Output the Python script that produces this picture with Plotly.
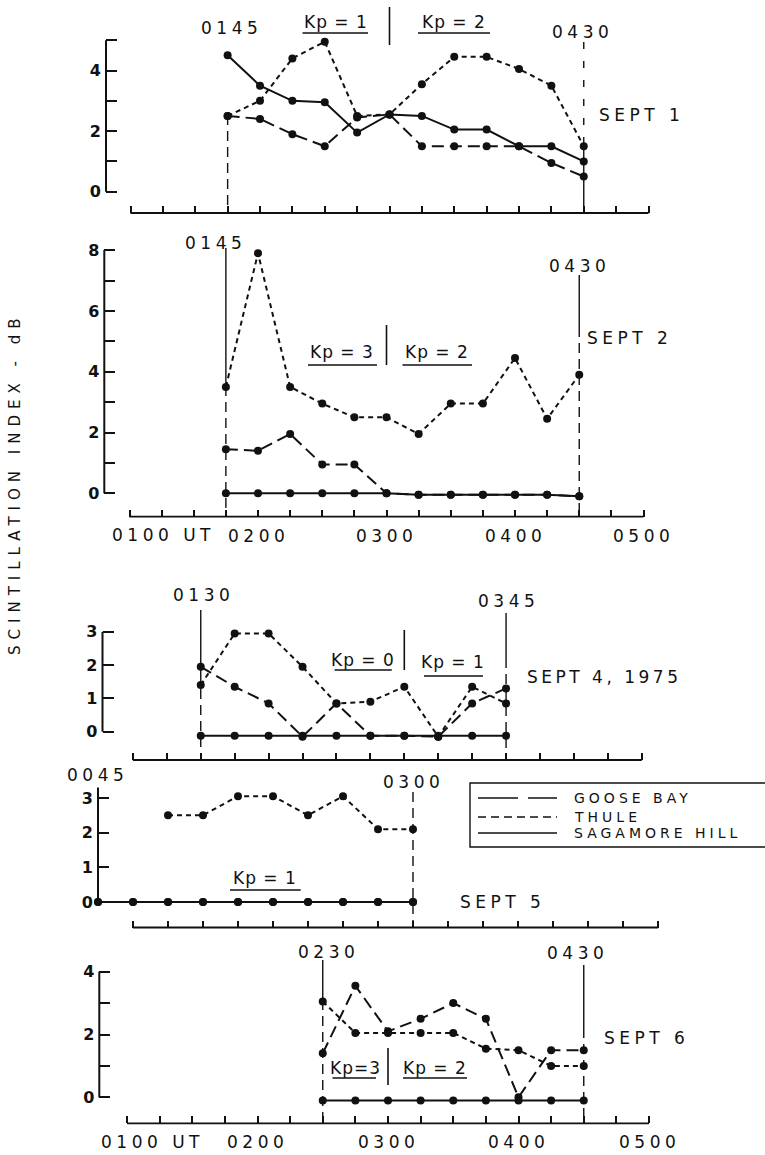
import plotly.graph_objects as go

W, H = 765, 1155
FONT = "DejaVu Sans"
INK = "#111111"


def hrs(s):
    return int(s[:2]) + int(s[2:]) / 60.0


# ---------------- data ----------------
sep1_times = ["0145", "0200", "0215", "0230", "0245", "0300", "0315", "0330", "0345", "0400", "0415", "0430"]
sep1_goose = [2.5, 2.4, 1.9, 1.5, 2.45, 2.55, 1.5, 1.5, 1.5, 1.5, 0.95, 0.5]
sep1_thule = [2.5, 3.0, 4.4, 4.95, 2.5, 2.55, 3.55, 4.45, 4.45, 4.05, 3.5, 1.5]
sep1_sagamore = [4.5, 3.5, 3.0, 2.95, 1.95, 2.55, 2.5, 2.05, 2.05, 1.5, 1.5, 1.0]

sep2_times = ["0145", "0200", "0215", "0230", "0245", "0300", "0315", "0330", "0345", "0400", "0415", "0430"]
sep2_goose = [1.45, 1.4, 1.95, 0.95, 0.95, 0.0, -0.05, -0.05, -0.05, -0.05, -0.05, -0.1]
sep2_thule = [3.5, 7.9, 3.5, 2.95, 2.5, 2.5, 1.95, 2.95, 2.95, 4.45, 2.45, 3.9]
sep2_sagamore = [0.0, 0.0, 0.0, 0.0, 0.0, 0.0, -0.05, -0.05, -0.05, -0.05, -0.05, -0.1]

sep4_times = ["0130", "0145", "0200", "0215", "0230", "0245", "0300", "0315", "0330", "0345"]
sep4_goose = [1.95, 1.35, 0.85, -0.15, 0.85, -0.12, -0.12, -0.15, 0.85, 1.3]
sep4_thule = [1.4, 2.95, 2.95, 1.95, 0.85, 0.9, 1.35, -0.15, 1.35, 0.85]
sep4_sagamore = [-0.12, -0.12, -0.12, -0.12, -0.12, -0.12, -0.12, -0.12, -0.12, -0.12]

sep5_times = ["0045", "0100", "0115", "0130", "0145", "0200", "0215", "0230", "0245", "0300"]
sep5_goose = [0.0, 0.0, 0.0, 0.0, 0.0, 0.0, 0.0, 0.0, 0.0, 0.0]
sep5_sagamore = [0.0, 0.0, 0.0, 0.0, 0.0, 0.0, 0.0, 0.0, 0.0, 0.0]
sep5_thule_times = ["0115", "0130", "0145", "0200", "0215", "0230", "0245", "0300"]
sep5_thule = [2.5, 2.5, 3.05, 3.05, 2.5, 3.05, 2.1, 2.1]

sep6_times = ["0230", "0245", "0300", "0315", "0330", "0345", "0400", "0415", "0430"]
sep6_goose = [1.4, 3.55, 2.1, 2.5, 3.0, 2.5, 0.0, 1.5, 1.5]
sep6_thule = [3.05, 2.05, 2.05, 2.05, 2.05, 1.55, 1.5, 1.0, 1.0]
sep6_sagamore = [-0.1, -0.1, -0.1, -0.1, -0.1, -0.1, -0.1, -0.1, -0.1]

station_names = ["GOOSE BAY", "THULE", "SAGAMORE HILL"]

panel_series = [
    [(sep1_times, sep1_goose), (sep1_times, sep1_thule), (sep1_times, sep1_sagamore)],
    [(sep2_times, sep2_goose), (sep2_times, sep2_thule), (sep2_times, sep2_sagamore)],
    [(sep4_times, sep4_goose), (sep4_times, sep4_thule), (sep4_times, sep4_sagamore)],
    [(sep5_times, sep5_goose), (sep5_thule_times, sep5_thule), (sep5_times, sep5_sagamore)],
    [(sep6_times, sep6_goose), (sep6_times, sep6_thule), (sep6_times, sep6_sagamore)],
]

y_ticks = [[0, 1, 2, 3, 4, 5], [0, 1, 2, 3, 4, 5, 6, 7, 8], [0, 1, 2, 3], [0, 1, 2, 3], [0, 1, 2, 3, 4]]
y_tick_labels = [["0", "", "2", "", "4", ""],
                 ["0", "", "2", "", "4", "", "6", "", "8"],
                 ["0", "1", "2", "3"], ["0", "1", "2", "3"],
                 ["0", "", "2", "", "4"]]
x_tick_times = ["0100", "0115", "0130", "0145", "0200", "0215", "0230", "0245", "0300",
                "0315", "0330", "0345", "0400", "0415", "0430", "0445", "0500"]
x_axis_end = ["0500", "0500", "0445", "0445", "0500"]
x_labels = ["0200", "0300", "0400", "0500"]

# ---------------- geometry (pixels) ----------------
# X0: px of 0100, S: px per hour, Y0: px of value 0, U: px per unit,
# A: px of the y-axis line, B: px of the time baseline
geom = [
    dict(X0=130.5, S=129.5, Y0=191.7, U=30.3, A=106.0, B=213.0, ytop=5.0),
    dict(X0=129.5, S=128.5, Y0=493.3, U=30.4, A=104.3, B=516.7, ytop=8.0),
    dict(X0=132.9, S=135.7, Y0=731.7, U=33.3, A=102.5, B=760.0, ytop=3.0),
    dict(X0=133.0, S=140.0, Y0=902.0, U=34.7, A=98.0, B=927.5, ytop=3.3),
    dict(X0=127.0, S=130.5, Y0=1097.3, U=31.4, A=99.3, B=1123.3, ytop=4.0),
]
R_PX = 720.0

dashes = ["12px,6px", "5px,4px", "solid"]


def px(x):
    return x / W


def py(y):
    return 1 - y / H


def ls(text, sp):
    return '<span style="letter-spacing:%spx">%s</span>' % (sp, text)


fig = go.Figure()
layout = dict(width=W, height=H, margin=dict(l=0, r=0, t=0, b=0), autosize=False,
              paper_bgcolor="white", plot_bgcolor="white", showlegend=False)
shapes = []
annotations = []

for i, g in enumerate(geom):
    n = i + 1
    xs = "x" if n == 1 else "x%d" % n
    ys = "y" if n == 1 else "y%d" % n
    xa = "xaxis" if n == 1 else "xaxis%d" % n
    ya = "yaxis" if n == 1 else "yaxis%d" % n
    tl = 1 + (g["A"] - g["X0"]) / g["S"]
    tr = 1 + (R_PX - g["X0"]) / g["S"]
    ylo, yhi = -0.6, g["ytop"] + 0.4
    tend = hrs(x_axis_end[i])
    tv = [hrs(t) for t in x_tick_times if hrs(t) <= tend + 1e-9]
    layout[xa] = dict(domain=[px(g["A"]), px(R_PX)], range=[tl, tr], anchor="free",
                      position=py(g["B"]), showline=False, showgrid=False, zeroline=False,
                      ticks="inside", ticklen=7, tickwidth=1.6, tickcolor=INK,
                      tickvals=tv, showticklabels=False, fixedrange=True)
    layout[ya] = dict(domain=[py(g["Y0"] - ylo * g["U"]), py(g["Y0"] - yhi * g["U"])],
                      range=[ylo, yhi], anchor=xs, showline=False, showgrid=False,
                      zeroline=False, ticks="inside", ticklen=11, tickwidth=2,
                      tickcolor=INK, tickvals=y_ticks[i], ticktext=y_tick_labels[i],
                      ticklabelstandoff=4,
                      tickfont=dict(family=FONT, size=16, color=INK, weight="bold"),
                      fixedrange=True)
    # y-axis line from 0 to top
    shapes.append(dict(type="line", xref=xs + " domain", yref=ys, x0=0, x1=0, y0=0,
                       y1=g["ytop"], line=dict(color=INK, width=2)))
    # time baseline
    shapes.append(dict(type="line", xref=xs, yref="paper", x0=1.0, x1=tend,
                       y0=py(g["B"]), y1=py(g["B"]), line=dict(color=INK, width=1.8)))
    for k, (times, vals) in enumerate(panel_series[i]):
        fig.add_trace(go.Scatter(
            x=[hrs(t) for t in times], y=vals, xaxis=xs, yaxis=ys,
            mode="lines+markers", name=station_names[k], cliponaxis=False,
            line=dict(color=INK, width=2, dash=dashes[k]),
            marker=dict(color=INK, size=8), hoverinfo="skip"))

# ---- start / end markers of each observing window (panel, time, segments) ----
window_marks = [
    (0, "0145", [(115, 213, "10px,6px")]),
    (0, "0430", [(42, 146, "7px,12px"), (146, 213, "solid")]),
    (1, "0145", [(248, 386, "solid"), (386, 517, "10px,6px")]),
    (1, "0430", [(275, 327, "solid"), (327, 517, "10px,6px")]),
    (2, "0130", [(610, 673, "solid"), (673, 760, "10px,6px")]),
    (2, "0345", [(613, 658, "solid"), (658, 760, "10px,6px")]),
    (3, "0300", [(792, 927, "10px,6px")]),
    (4, "0230", [(960, 1000, "solid"), (1000, 1123, "10px,6px")]),
    (4, "0430", [(965, 1028, "solid"), (1028, 1123, "10px,6px")]),
]
for pi, t, segs in window_marks:
    xs = "x" if pi == 0 else "x%d" % (pi + 1)
    for y0, y1, d in segs:
        shapes.append(dict(type="line", xref=xs, yref="paper", x0=hrs(t), x1=hrs(t),
                           y0=py(y0), y1=py(y1), line=dict(color=INK, width=1.4, dash=d)))

# ---- Kp separators and underlines ----
kp_separators = [(0, "0300", 7, 45), (1, "0300", 325, 365), (2, "0300", 630, 670), (4, "0300", 1048, 1085)]
for pi, t, y0, y1 in kp_separators:
    xs = "x" if pi == 0 else "x%d" % (pi + 1)
    shapes.append(dict(type="line", xref=xs, yref="paper", x0=hrs(t), x1=hrs(t),
                       y0=py(y0), y1=py(y1), line=dict(color=INK, width=1.6)))

underlines = [(302.5, 368, 33), (418, 490, 33), (308, 377, 365), (402.5, 472, 365),
              (334.6, 391.8, 670), (424, 483, 676), (230, 300.7, 890),
              (332.5, 376, 1078), (403, 467, 1078)]
for x0, x1, y in underlines:
    shapes.append(dict(type="line", xref="paper", yref="paper", x0=px(x0), x1=px(x1),
                       y0=py(y), y1=py(y), line=dict(color=INK, width=1.4)))

# ---- texts ----
texts = [
    # text, x px, y px, anchor, size, spacing
    ("0145", 231, 28, "center", 17, 4.5), ("0430", 582.5, 32, "center", 17, 4.5),
    ("Kp = 1", 336, 22, "center", 17, 1), ("Kp = 2", 454, 22, "center", 17, 1),
    ("SEPT 1", 597, 115, "left", 17, 4.5),
    ("0145", 215, 243, "center", 17, 4.5), ("0430", 579, 266, "center", 17, 4.5),
    ("Kp = 3", 342, 352, "center", 17, 1), ("Kp = 2", 437, 352, "center", 17, 1),
    ("SEPT 2", 585, 338, "left", 17, 4.5),
    ("0100 UT", 110, 535, "left", 17, 4.5),
    ("0130", 203, 595, "center", 17, 4.5), ("0345", 508, 601, "center", 17, 4.5),
    ("Kp = 0", 363, 660, "center", 17, 1), ("Kp = 1", 453, 662, "center", 17, 1),
    ("SEPT 4, 1975", 525, 677, "left", 17, 3.5),
    ("0045", 97, 775, "center", 17, 4.5), ("0300", 413, 782, "center", 17, 4.5),
    ("Kp = 1", 265, 878, "center", 17, 1), ("SEPT 5", 458, 902, "left", 17, 4.5),
    ("0230", 328, 952, "center", 17, 4.5), ("0430", 577, 953, "center", 17, 4.5),
    ("Kp=3", 355, 1068, "center", 17, 1), ("Kp = 2", 435, 1068, "center", 17, 1),
    ("SEPT 6", 602, 1038, "left", 17, 4.5),
    ("0100 UT", 99, 1142, "left", 17, 4.5),
]
for txt, x, y, anc, size, sp in texts:
    annotations.append(dict(text=ls(txt, sp), x=px(x), y=py(y), xref="paper", yref="paper",
                            xanchor=anc, yanchor="middle", showarrow=False,
                            font=dict(family=FONT, size=size, color=INK)))

# hour labels under the time axes of Sept 2 and Sept 6
for pi, ypix in [(1, 536), (4, 1142)]:
    xs = "x%d" % (pi + 1)
    for lab in x_labels:
        annotations.append(dict(text=ls(lab, 4.5), x=hrs(lab), y=py(ypix), xref=xs, yref="paper",
                                xanchor="center", yanchor="middle", showarrow=False,
                                font=dict(family=FONT, size=17, color=INK)))

# y title
annotations.append(dict(text=ls("SCINTILLATION INDEX - dB", 6), x=px(15), y=py(484),
                        xref="paper", yref="paper", textangle=-90, showarrow=False,
                        xanchor="center", yanchor="middle",
                        font=dict(family=FONT, size=15, color=INK)))

# ---- legend box ----
shapes.append(dict(type="rect", xref="paper", yref="paper", x0=px(470), x1=px(775),
                   y0=py(847), y1=py(783), line=dict(color=INK, width=1.4)))
legend_rows = [798, 817, 833]
legend_sample_dash = ["40px,10px", "8px,5px", "solid"]
for k, ypix in enumerate(legend_rows):
    shapes.append(dict(type="line", xref="paper", yref="paper", x0=px(478), x1=px(557),
                       y0=py(ypix), y1=py(ypix),
                       line=dict(color=INK, width=1.6, dash=legend_sample_dash[k])))
    annotations.append(dict(text=ls(station_names[k], 4), x=px(572), y=py(ypix),
                            xref="paper", yref="paper", xanchor="left", yanchor="middle",
                            showarrow=False, font=dict(family=FONT, size=14, color=INK)))

layout["shapes"] = shapes
layout["annotations"] = annotations
fig.update_layout(**layout)
fig.write_html("out.html", config={"displayModeBar": False},
               post_script="document.body.style.margin='0';document.body.style.padding='0';")
